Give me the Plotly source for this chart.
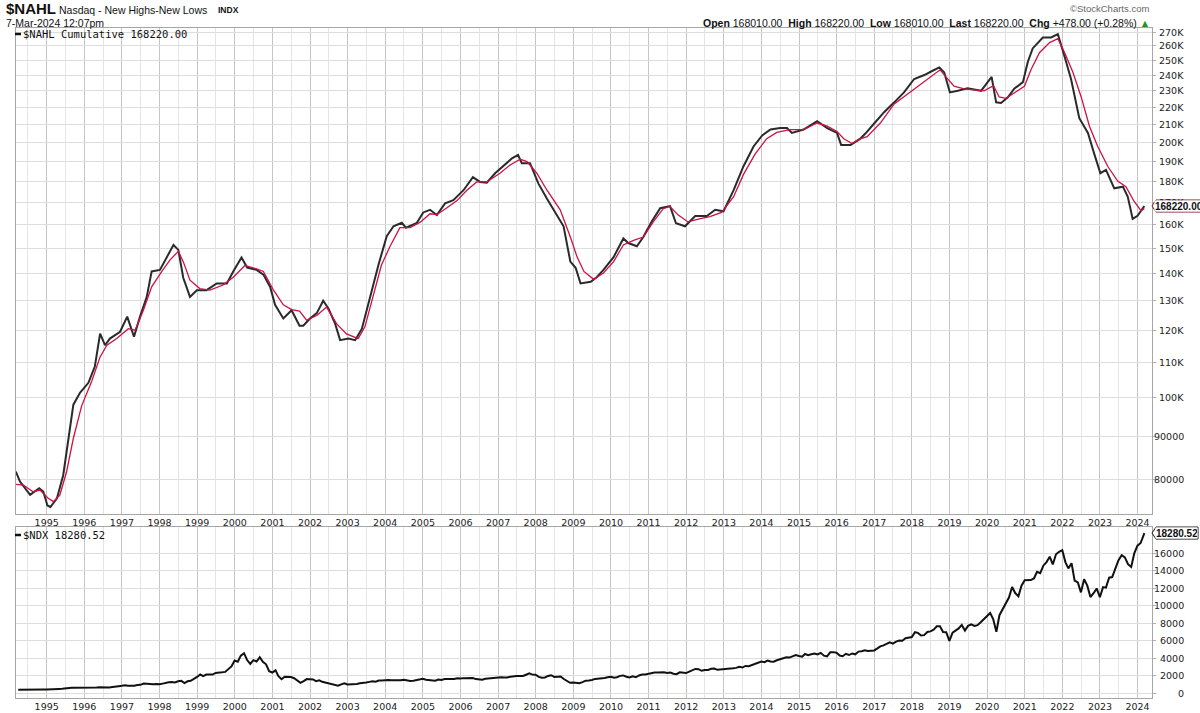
import math
import pandas as pd
import plotly.graph_objects as go

# ---------------- DATA ----------------
# $NAHL cumulative (black), decimal-year positions and values
nahl_t = [1994.18, 1994.29, 1994.56, 1994.80, 1994.91, 1995.02, 1995.10, 1995.27, 1995.44, 1995.57,
          1995.71, 1995.89, 1996.11, 1996.28, 1996.42, 1996.55, 1996.68, 1996.95, 1997.14, 1997.32,
          1997.48, 1997.66, 1997.79, 1998.01, 1998.19, 1998.37, 1998.50, 1998.63, 1998.81, 1998.99,
          1999.25, 1999.52, 1999.79, 1999.96, 2000.18, 2000.33, 2000.58, 2000.76, 2000.94, 2001.07,
          2001.29, 2001.51, 2001.72, 2001.82, 2002.00, 2002.18, 2002.35, 2002.49, 2002.67, 2002.80,
          2003.02, 2003.20, 2003.38, 2003.60, 2003.82, 2004.04, 2004.22, 2004.44, 2004.55, 2004.84,
          2005.01, 2005.19, 2005.37, 2005.59, 2005.81, 2006.08, 2006.33, 2006.52, 2006.70, 2006.92,
          2007.14, 2007.37, 2007.53, 2007.63, 2007.85, 2008.07, 2008.30, 2008.56, 2008.74, 2008.92,
          2009.06, 2009.19, 2009.46, 2009.62, 2009.80, 2010.07, 2010.33, 2010.46, 2010.69, 2010.86,
          2011.08, 2011.31, 2011.57, 2011.73, 2011.97, 2012.24, 2012.55, 2012.77, 2012.99, 2013.26,
          2013.52, 2013.79, 2014.02, 2014.24, 2014.50, 2014.68, 2014.81, 2015.12, 2015.48, 2015.75,
          2016.01, 2016.12, 2016.37, 2016.62, 2016.77, 2016.99, 2017.26, 2017.53, 2017.79, 2018.06,
          2018.33, 2018.55, 2018.73, 2018.86, 2019.01, 2019.22, 2019.48, 2019.84, 2020.02, 2020.12,
          2020.24, 2020.37, 2020.55, 2020.72, 2020.95, 2021.08, 2021.21, 2021.48, 2021.70, 2021.88,
          2022.06, 2022.23, 2022.45, 2022.68, 2022.85, 2023.01, 2023.16, 2023.38, 2023.61, 2023.74,
          2023.87, 2024.00, 2024.18]
nahl_v = [81700, 79500, 76700, 78100, 77400, 74500, 74200, 75900, 80900, 88600,
          98000, 101300, 104000, 108700, 118900, 115200, 117300, 119500, 124500, 117900,
          124500, 131400, 140800, 141400, 146000, 151300, 149300, 138400, 131400, 133800,
          133800, 136300, 136300, 140800, 146200, 142300, 141400, 139600, 135000, 128600,
          123900, 126700, 121500, 121500, 123900, 125700, 130000, 127300, 122100, 116800,
          117300, 116800, 120500, 131400, 143300, 155000, 159200, 160700, 158600, 160700,
          165300, 166500, 164100, 169400, 170900, 175600, 182000, 179600, 179200, 183900,
          187600, 191500, 193300, 189000, 189000, 178900, 171600, 164100, 159200, 144600,
          142200, 136300, 136900, 138600, 141400, 146400, 154000, 152100, 150800, 154600,
          161200, 167200, 168200, 160500, 159200, 163700, 163700, 166500, 165800, 175600,
          187300, 197800, 203800, 207100, 207900, 207900, 205200, 207100, 211800, 207900,
          205200, 198600, 198600, 201900, 205000, 210400, 217100, 223000, 229100, 237600,
          240200, 243000, 245200, 241900, 229100, 230100, 231700, 230100, 235600, 239000,
          223000, 222600, 226100, 231400, 235600, 248900, 258200, 266000, 266000, 268400,
          252400, 237600, 213600, 205200, 193700, 183900, 185600, 176500, 177300, 172500,
          162400, 163800, 168220]

# moving average (red)
ma_t = [1994.18, 1994.38, 1994.64, 1994.82, 1995.04, 1995.18, 1995.35, 1995.53, 1995.71, 1995.93,
        1996.20, 1996.42, 1996.60, 1996.86, 1997.17, 1997.35, 1997.57, 1997.79, 1998.06, 1998.28,
        1998.50, 1998.63, 1998.81, 1999.07, 1999.34, 1999.69, 1999.96, 2000.27, 2000.58, 2000.76,
        2001.03, 2001.29, 2001.51, 2001.72, 2001.91, 2002.18, 2002.44, 2002.71, 2002.97, 2003.28,
        2003.46, 2003.68, 2003.90, 2004.13, 2004.39, 2004.66, 2004.93, 2005.19, 2005.37, 2005.64,
        2005.90, 2006.17, 2006.43, 2006.70, 2007.05, 2007.32, 2007.59, 2007.77, 2008.03, 2008.30,
        2008.65, 2008.92, 2009.10, 2009.28, 2009.54, 2009.80, 2010.07, 2010.33, 2010.60, 2010.86,
        2011.13, 2011.39, 2011.57, 2011.79, 2012.05, 2012.32, 2012.63, 2012.94, 2013.26, 2013.52,
        2013.83, 2014.14, 2014.41, 2014.76, 2015.12, 2015.48, 2015.75, 2016.01, 2016.19, 2016.41,
        2016.62, 2016.81, 2017.16, 2017.53, 2017.88, 2018.24, 2018.50, 2018.75, 2018.90, 2019.12,
        2019.39, 2019.65, 2019.92, 2020.17, 2020.32, 2020.50, 2020.81, 2020.99, 2021.17, 2021.39,
        2021.66, 2021.88, 2022.06, 2022.28, 2022.50, 2022.72, 2022.94, 2023.21, 2023.47, 2023.69,
        2023.91, 2024.09, 2024.18]
ma_v = [78900, 78760, 77350, 77700, 76000, 75300, 76650, 81670, 89460, 97690,
        104500, 111600, 115200, 117300, 120500, 120000, 126700, 135000, 140800, 145300,
        148700, 144600, 137500, 134400, 133800, 135700, 138600, 143100, 141800, 140800,
        133800, 128600, 126900, 126400, 123300, 124900, 127800, 122100, 118800, 117300,
        121100, 131400, 143300, 150800, 158600, 158600, 161000, 164700, 164300, 167400,
        170600, 175600, 179600, 179600, 183900, 188100, 191000, 189800, 183900, 175600,
        166500, 154600, 146400, 140800, 137800, 140200, 144600, 151300, 153200, 154600,
        161200, 167000, 168000, 164100, 161100, 162300, 163400, 165300, 172500, 183200,
        193700, 202000, 205500, 207100, 207100, 210800, 209000, 206000, 202000, 199400,
        201900, 203100, 210800, 222000, 228100, 234000, 239100, 243600, 239100, 233000,
        231300, 230600, 230100, 233400, 226300, 225400, 230100, 233000, 244000, 255200,
        262300, 265200, 255200, 242000, 226300, 209000, 197800, 187300, 180000, 177300,
        170300, 166100, 167000]

# $NDX monthly closes (Mar-1994 .. Feb-2024) plus last value 7-Mar-2024
ndx_values = [
    380, 375, 370, 345, 360, 390, 395, 410, 395, 404,                          # 1994 Mar-Dec
    400, 420, 440, 470, 490, 540, 590, 590, 600, 600, 590, 576,                # 1995
    580, 600, 590, 640, 670, 650, 590, 620, 690, 700, 780, 821,                # 1996
    880, 830, 790, 830, 910, 930, 1080, 1040, 1080, 1000, 1020, 990,           # 1997
    1070, 1170, 1220, 1250, 1200, 1340, 1390, 1140, 1340, 1400, 1590, 1836,    # 1998
    2130, 1920, 2110, 2140, 2110, 2300, 2300, 2360, 2410, 2700, 3040, 3708,    # 1999
    3570, 4270, 4550, 3770, 3320, 3760, 3600, 4080, 3570, 3280, 2500, 2340,    # 2000
    2590, 1920, 1570, 1850, 1800, 1830, 1690, 1470, 1170, 1370, 1590, 1577,    # 2001
    1550, 1360, 1450, 1280, 1200, 1050, 960, 940, 830, 990, 1120, 984,         # 2002
    980, 1000, 1020, 1110, 1200, 1200, 1270, 1340, 1300, 1420, 1420, 1468,     # 2003
    1490, 1460, 1440, 1400, 1460, 1520, 1400, 1360, 1410, 1480, 1560, 1621,    # 2004
    1520, 1510, 1480, 1410, 1530, 1490, 1600, 1580, 1600, 1590, 1680, 1645,    # 2005
    1700, 1680, 1700, 1710, 1590, 1580, 1520, 1620, 1650, 1730, 1780, 1757,    # 2006
    1800, 1770, 1770, 1860, 1920, 1930, 1930, 1950, 2090, 2240, 2100, 2085,    # 2007
    1840, 1750, 1780, 1950, 2030, 1840, 1870, 1890, 1600, 1330, 1170, 1212,    # 2008
    1160, 1110, 1240, 1410, 1440, 1480, 1610, 1630, 1720, 1720, 1810, 1860,    # 2009
    1740, 1800, 1960, 2010, 1860, 1780, 1900, 1800, 2000, 2120, 2110, 2217,    # 2010
    2280, 2340, 2340, 2390, 2370, 2300, 2330, 2200, 2150, 2370, 2310, 2278,    # 2011
    2450, 2620, 2750, 2720, 2540, 2620, 2640, 2770, 2800, 2650, 2680, 2660,    # 2012
    2730, 2740, 2820, 2870, 2990, 2910, 3090, 3070, 3220, 3380, 3510, 3592,    # 2013
    3520, 3700, 3600, 3580, 3740, 3850, 3890, 4080, 4050, 4160, 4340, 4236,    # 2014
    4150, 4460, 4330, 4420, 4510, 4400, 4590, 4270, 4180, 4650, 4670, 4594,    # 2015
    4280, 4200, 4480, 4340, 4520, 4420, 4730, 4770, 4880, 4800, 4810, 4863,    # 2016
    5100, 5330, 5440, 5580, 5790, 5650, 5880, 5990, 5980, 6250, 6360, 6397,    # 2017
    6950, 6870, 6580, 6610, 6970, 7040, 7230, 7620, 7630, 6960, 6950, 5950,    # 2018
    6900, 7100, 7380, 7780, 7130, 7670, 7850, 7660, 7750, 8080, 8410, 8733,    # 2019
    9150, 8460, 7000, 8890, 9550, 10160, 10910, 12110, 11420, 11050, 12270, 12888,   # 2020
    12930, 12910, 13090, 13860, 13690, 14550, 14960, 15580, 14690, 15850, 16140, 16320,  # 2021
    14930, 14240, 14840, 12850, 12640, 11500, 13000, 12270, 10970, 11400, 11950, 10940,  # 2022
    12100, 12040, 13180, 13250, 14250, 15180, 15760, 15500, 14720, 14410, 15950, 16830,  # 2023
    17140, 18040,                                                              # 2024 Jan-Feb
    18280.52,                                                                  # 7-Mar-2024
]

nahl_ticks = [80000, 90000, 100000, 110000, 120000, 130000, 140000, 150000, 160000, 170000,
              180000, 190000, 200000, 210000, 220000, 230000, 240000, 250000, 260000, 270000]
nahl_tick_labels = ["80000", "90000", "100K", "110K", "120K", "130K", "140K", "150K", "160K", "170K",
                    "180K", "190K", "200K", "210K", "220K", "230K", "240K", "250K", "260K", "270K"]
ndx_ticks = [0, 2000, 4000, 6000, 8000, 10000, 12000, 14000, 16000]
ndx_tick_labels = ["0", "2000", "4000", "6000", "8000", "10000", "12000", "14000", "16000"]

nahl_last = 168220.00
ndx_last = 18280.52

# ---------------- helpers ----------------
def dec_to_date(t):
    y = int(t)
    s = pd.Timestamp(y, 1, 1)
    e = pd.Timestamp(y + 1, 1, 1)
    return s + (e - s) * (t - y)

nahl_x = [dec_to_date(t) for t in nahl_t]
ma_x = [dec_to_date(t) for t in ma_t]
ndx_x = list(pd.date_range("1994-03-31", periods=len(ndx_values) - 1, freq="ME")) + [pd.Timestamp("2024-03-07")]

W, H = 1200, 713
ML, MR, MT, MB = 16, 48, 28, 15
PW, PH = W - ML - MR, H - MT - MB

def px_x(p):
    return (p - ML) / PW

def px_y(p):
    return (H - MB - p) / PH

top_dom = [px_y(514), 1.0]
bot_dom = [0.0, px_y(527)]
top_range = [math.log10(72800), math.log10(272960)]
bot_range = [-571, 18971]
x_range = [dec_to_date(1994.184), dec_to_date(2024.383)]

FONT = "DejaVu Sans"
MONO = "DejaVu Sans Mono"
HEAD = "Liberation Sans"
GRID_Y = "#dddddd"
GRID_YEAR = "#c6c6c6"
GRID_HALF = "#e4e4e4"
BORDER = "#a6a6a6"

fig = go.Figure()
fig.add_trace(go.Scatter(x=nahl_x, y=nahl_v, mode="lines", line=dict(color="#2a2a2a", width=2),
                         xaxis="x", yaxis="y", hoverinfo="skip", showlegend=False))
fig.add_trace(go.Scatter(x=ma_x, y=ma_v, mode="lines", line=dict(color="#cc1144", width=1.3),
                         xaxis="x", yaxis="y", hoverinfo="skip", showlegend=False))
fig.add_trace(go.Scatter(x=ndx_x, y=ndx_values, mode="lines", line=dict(color="#111111", width=2),
                         xaxis="x2", yaxis="y2", hoverinfo="skip", showlegend=False))

xcommon = dict(type="date", range=x_range, dtick="M12", tick0="1995-01-01", tickformat="%Y",
               showgrid=True, gridcolor=GRID_YEAR, gridwidth=1,
               minor=dict(dtick="M6", tick0="1995-01-01", showgrid=True, gridcolor=GRID_HALF, gridwidth=1),
               ticks="", ticklen=0, tickfont=dict(family=FONT, size=9.5, color="#222"), automargin=False,
               showline=True, mirror=True, linecolor=BORDER, linewidth=1, zeroline=False)

ycommon = dict(showticklabels=False, showgrid=True, gridcolor=GRID_Y, side="right", ticks="outside",
               ticklen=3, tickcolor="#b0b0b0", automargin=False,
               showline=True, mirror=True, linecolor=BORDER, zeroline=False)

fig.update_layout(
    width=W, height=H,
    margin=dict(l=ML, r=MR, t=MT, b=MB, autoexpand=False),
    paper_bgcolor="white", plot_bgcolor="white", showlegend=False,
    xaxis=dict(domain=[0, 1], anchor="y", **xcommon),
    xaxis2=dict(domain=[0, 1], anchor="y2", matches="x", **xcommon),
    yaxis=dict(domain=top_dom, type="log", range=top_range, tickvals=nahl_ticks, **ycommon),
    yaxis2=dict(domain=bot_dom, range=bot_range, tickvals=ndx_ticks, **ycommon),
)

ann = []
# y tick labels, right-aligned like the reference
for v, lab in zip(nahl_ticks, nahl_tick_labels):
    ann.append(dict(x=px_x(1186), y=math.log10(v), xref="paper", yref="y", text=lab, showarrow=False,
                    xanchor="right", yanchor="middle", font=dict(family=FONT, size=9.5, color="#222")))
for v, lab in zip(ndx_ticks, ndx_tick_labels):
    ann.append(dict(x=px_x(1186), y=v, xref="paper", yref="y2", text=lab, showarrow=False,
                    xanchor="right", yanchor="middle", font=dict(family=FONT, size=9.5, color="#222")))

# header
ann.append(dict(x=px_x(4), y=px_y(9), xref="paper", yref="paper", xanchor="left", yanchor="middle", showarrow=False,
                text="<b>$NAHL</b>", font=dict(family=HEAD, size=15, color="#111")))
ann.append(dict(x=px_x(57), y=px_y(10), xref="paper", yref="paper", xanchor="left", yanchor="middle", showarrow=False,
                text="Nasdaq - New Highs-New Lows", font=dict(family=HEAD, size=10.5, color="#111")))
ann.append(dict(x=px_x(216), y=px_y(10.5), xref="paper", yref="paper", xanchor="left", yanchor="middle", showarrow=False,
                text="<b>INDX</b>", font=dict(family=HEAD, size=8.5, color="#111")))
ann.append(dict(x=px_x(4), y=px_y(23), xref="paper", yref="paper", xanchor="left", yanchor="middle", showarrow=False,
                text="7-Mar-2024 12:07pm", font=dict(family=HEAD, size=10.5, color="#111")))
ann.append(dict(x=px_x(1151), y=px_y(9), xref="paper", yref="paper", xanchor="right", yanchor="middle", showarrow=False,
                text="©StockCharts.com", font=dict(family=HEAD, size=9.5, color="#666")))
ann.append(dict(x=px_x(1152), y=px_y(23), xref="paper", yref="paper", xanchor="right", yanchor="middle", showarrow=False,
                text="<b>Open</b> 168010.00  <b>High</b> 168220.00  <b>Low</b> 168010.00  <b>Last</b> 168220.00  <b>Chg</b> +478.00 (+0.28%) <span style='color:#1a9a1a'>▲</span>",
                font=dict(family=HEAD, size=10.5, color="#111")))

# panel legends (text + short thick dash)
ann.append(dict(x=px_x(21), y=px_y(34), xref="paper", yref="paper", xanchor="left", yanchor="middle", showarrow=False,
                text="$NAHL Cumulative %.2f" % nahl_last, font=dict(family=MONO, size=10.5, color="#111")))
ann.append(dict(x=px_x(21), y=px_y(535), xref="paper", yref="paper", xanchor="left", yanchor="middle", showarrow=False,
                text="$NDX %.2f" % ndx_last, font=dict(family=MONO, size=10.5, color="#111")))

shapes = []
for py in (34, 535):
    shapes.append(dict(type="line", xref="paper", yref="paper", x0=px_x(15), x1=px_x(21),
                       y0=px_y(py), y1=px_y(py), line=dict(color="#111", width=2.5), layer="above"))

# last-value boxes on the right axis (outline shape + opaque text box drawn over the tick labels)
def paper_y_top(v):
    return top_dom[0] + (math.log10(v) - top_range[0]) / (top_range[1] - top_range[0]) * (top_dom[1] - top_dom[0])

def paper_y_bot(v):
    return bot_dom[0] + (v - bot_range[0]) / (bot_range[1] - bot_range[0]) * (bot_dom[1] - bot_dom[0])

for yc, wbox, col in [(paper_y_top(nahl_last), 60, "#7a1028"), (paper_y_bot(ndx_last), 46, "#111111")]:
    shapes.append(dict(type="path", xref="paper", yref="paper", xsizemode="pixel", ysizemode="pixel",
                       xanchor=1.0, yanchor=yc,
                       path="M 0 0 L 4 6 L %d 6 L %d -6 L 4 -6 Z" % (wbox, wbox),
                       fillcolor="white", line=dict(color=col, width=1), layer="above"))
ann.append(dict(x=px_x(1154), y=paper_y_top(nahl_last), xref="paper", yref="paper", xanchor="left", yanchor="middle",
                showarrow=False, text="<b>%.2f</b>" % nahl_last, font=dict(family=HEAD, size=10, color="#111"),
                bgcolor="white", borderpad=0, width=54, height=10, align="left"))
ann.append(dict(x=px_x(1155), y=paper_y_bot(ndx_last), xref="paper", yref="paper", xanchor="left", yanchor="middle",
                showarrow=False, text="<b>%.2f</b>" % ndx_last, font=dict(family=HEAD, size=10, color="#111"),
                bgcolor="white", borderpad=0, width=41, height=10, align="left"))

fig.update_layout(annotations=ann, shapes=shapes)
fig.write_html("out.html")
